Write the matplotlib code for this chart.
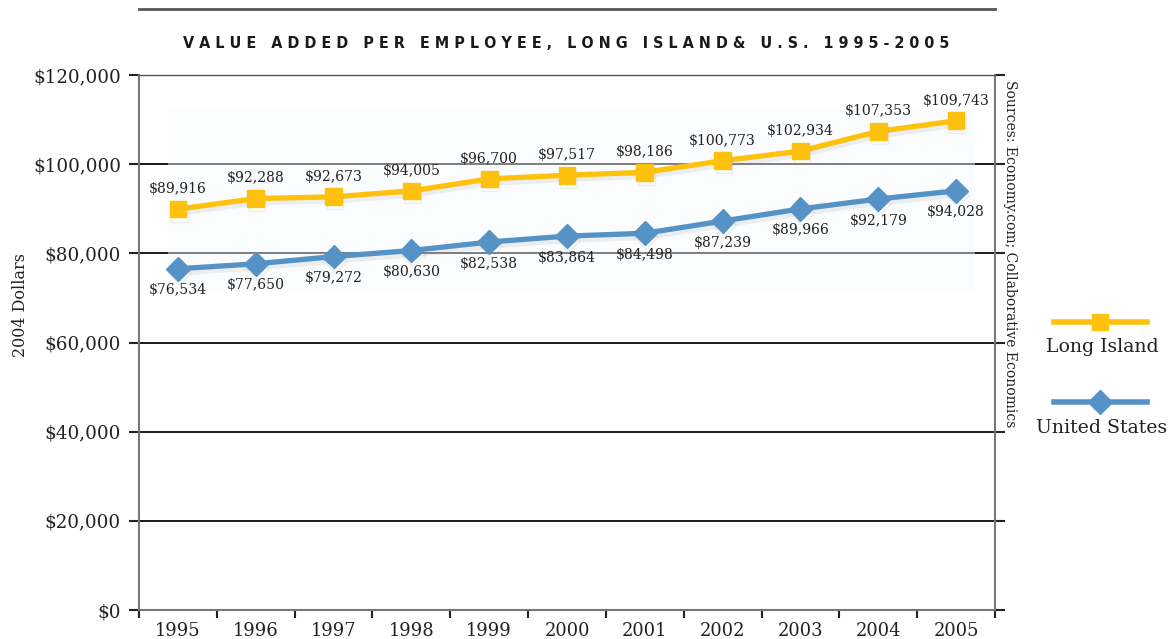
import matplotlib
matplotlib.use("Agg")
import matplotlib.pyplot as plt
import matplotlib.patheffects as pe
from matplotlib.lines import Line2D
from matplotlib.patches import Rectangle
from matplotlib.ticker import FuncFormatter, FixedLocator

years = ["1995", "1996", "1997", "1998", "1999", "2000", "2001", "2002", "2003", "2004", "2005"]
long_island = [89916, 92288, 92673, 94005, 96700, 97517, 98186, 100773, 102934, 107353, 109743]
united_states = [76534, 77650, 79272, 80630, 82538, 83864, 84498, 87239, 89966, 92179, 94028]

YELLOW = "#FDC10E"
BLUE = "#5592C6"
SERIF = "DejaVu Serif"

plt.rcParams["font.family"] = SERIF

fig = plt.figure(figsize=(11.7, 6.39), dpi=100)
ax = fig.add_axes([139 / 1170, 1 - 610 / 639, 856 / 1170, 535 / 639])

x = list(range(len(years)))
shadow = [pe.SimpleLineShadow(offset=(1, -3), shadow_color="0.55", alpha=0.13), pe.Normal()]

ax.plot(x, long_island, color=YELLOW, lw=3.8, marker="s", ms=12, zorder=5, path_effects=shadow)
ax.plot(x, united_states, color=BLUE, lw=3.8, marker="D", ms=12, zorder=5, path_effects=shadow)

for xi, v in zip(x, long_island):
    ax.annotate(f"${v:,}", (xi, v), xytext=(0, 14.5), textcoords="offset points",
                ha="center", va="center", fontsize=10.1, color="#222222")
for xi, v in zip(x, united_states):
    ax.annotate(f"${v:,}", (xi, v), xytext=(0, -15.5), textcoords="offset points",
                ha="center", va="center", fontsize=10.1, color="#222222")

# faint backdrop behind the data
ax.add_patch(Rectangle((0.034, 0.594), 0.943, 0.344, transform=ax.transAxes,
                       facecolor="#f8f9fb", edgecolor="none", alpha=0.45, zorder=2))

ax.set_xlim(-0.5, len(years) - 0.5)
ax.set_ylim(0, 120000)
ax.set_yticks(range(0, 120001, 20000))
ax.yaxis.set_major_formatter(FuncFormatter(lambda v, p: f"${int(v):,}"))
for yv in range(20000, 120000, 20000):
    ax.axhline(yv, color="#1a1a1a", lw=1.4, zorder=1)

ax.xaxis.set_major_locator(FixedLocator([i - 0.5 for i in range(len(years) + 1)]))
ax.xaxis.set_minor_locator(FixedLocator(x))
ax.set_xticklabels([])
ax.set_xticklabels(years, minor=True)
ax.tick_params(axis="x", which="major", length=6, width=1.5, color="#222222", direction="out")
ax.tick_params(axis="x", which="minor", length=0, pad=9, labelsize=12.9, labelcolor="#222222")
ax.tick_params(axis="y", length=7, width=1.5, color="#222222", direction="out", pad=6,
               labelsize=13.2, labelcolor="#222222", right=True)

for side in ["left", "right", "bottom"]:
    ax.spines[side].set_color("#777777")
    ax.spines[side].set_linewidth(1.5)
ax.spines["top"].set_color("#555555")
ax.spines["top"].set_linewidth(1.0)

ax.set_ylabel("2004 Dollars", fontsize=11.5, color="#222222")
ax.yaxis.set_label_coords(-0.128, 0.57)

ax.text(1.018, 0.99, "Sources: Economy.com; Collaborative Economics", transform=ax.transAxes,
        rotation=-90, ha="center", va="top", fontsize=10, color="#222222")

# top rule and title
fig.add_artist(Line2D([139 / 1170, 995 / 1170], [1 - 9 / 639] * 2, transform=fig.transFigure,
                      color="#555555", lw=2))
title = "VALUE ADDED PER EMPLOYEE, LONG ISLAND& U.S. 1995-2005"
spaced = "   ".join(" ".join(w) for w in title.split(" "))
fig.text(566 / 1170, 1 - 44 / 639, spaced, ha="center", va="center", fontsize=11.5,
         fontweight="bold", family="DejaVu Sans", fontstretch="condensed", color="#1a1a1a")

# legend
for label, color, marker, y_line, y_text in [("Long Island", YELLOW, "s", 322, 347),
                                             ("United States", BLUE, "D", 402, 428)]:
    yl = 1 - y_line / 639
    fig.add_artist(Line2D([1054 / 1170, 1147 / 1170], [yl, yl], transform=fig.transFigure,
                          color=color, lw=4))
    fig.add_artist(Line2D([1100 / 1170], [yl], transform=fig.transFigure, color=color,
                          marker=marker, ms=12, lw=0))
    fig.text(1102 / 1170, 1 - y_text / 639, label, ha="center", va="center",
             fontsize=13.6, color="#222222")

fig.savefig("out.png", dpi=100)
